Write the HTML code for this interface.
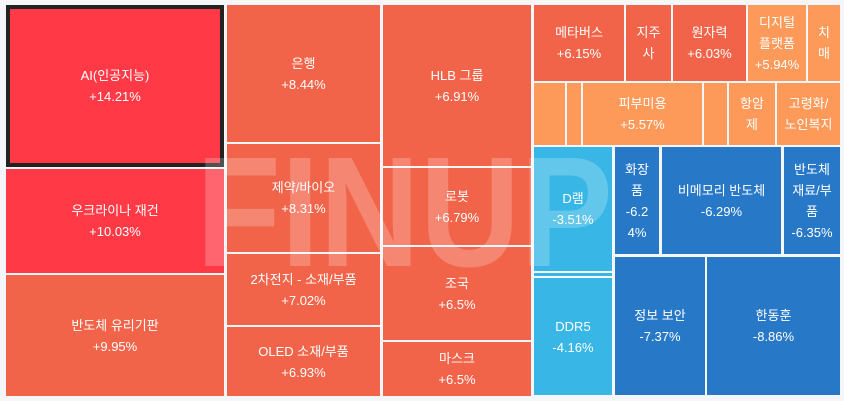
<!DOCTYPE html>
<html><head><meta charset="utf-8"><style>
body{margin:0;width:844px;height:401px;background:#f4f6fa;overflow:hidden;font-family:"Liberation Sans","Noto Sans CJK KR",sans-serif}
.c{position:absolute;display:flex;align-items:center;justify-content:center;text-align:center;color:#fff;font-size:13px;line-height:21px;box-sizing:border-box}
.r{background:#f26449}.h{background:#ff3a46}.o{background:#fd9a5a}.lb{background:#38b6e6}.db{background:#2878c8}
#wm{position:absolute;left:196px;top:118px;font:bold 157px "Liberation Sans",sans-serif;color:rgba(255,255,255,0.22);transform:scaleX(0.885);transform-origin:left top;letter-spacing:0;pointer-events:none;line-height:190px}
</style></head><body>
<div>
<div class="c h" style="left:6px;top:5px;width:218px;height:162px;border:4px solid #222">AI(인공지능)<br>+14.21%</div>
<div class="c h" style="left:6px;top:169px;width:218px;height:104px">우크라이나 재건<br>+10.03%</div>
<div class="c r" style="left:6px;top:275px;width:218px;height:121px">반도체 유리기판<br>+9.95%</div>
<div class="c r" style="left:227px;top:5px;width:153px;height:137px">은행<br>+8.44%</div>
<div class="c r" style="left:227px;top:144px;width:153px;height:108px">제약/바이오<br>+8.31%</div>
<div class="c r" style="left:227px;top:254px;width:153px;height:71px">2차전지 - 소재/부품<br>+7.02%</div>
<div class="c r" style="left:227px;top:327px;width:153px;height:69px">OLED 소재/부품<br>+6.93%</div>
<div class="c r" style="left:383px;top:5px;width:148px;height:161px">HLB 그룹<br>+6.91%</div>
<div class="c r" style="left:383px;top:168px;width:148px;height:77px">로봇<br>+6.79%</div>
<div class="c r" style="left:383px;top:247px;width:148px;height:93px">조국<br>+6.5%</div>
<div class="c r" style="left:383px;top:342px;width:148px;height:54px">마스크<br>+6.5%</div>
<div class="c r" style="left:534px;top:5px;width:90px;height:76px">메타버스<br>+6.15%</div>
<div class="c r" style="left:626px;top:5px;width:45px;height:76px">지주<br>사</div>
<div class="c r" style="left:673px;top:5px;width:73px;height:76px">원자력<br>+6.03%</div>
<div class="c o" style="left:748px;top:5px;width:58px;height:76px">디지털<br>플랫폼<br>+5.94%</div>
<div class="c o" style="left:808px;top:5px;width:32px;height:76px">치<br>매</div>
<div class="c o" style="left:534px;top:83px;width:31px;height:62px"></div>
<div class="c o" style="left:567px;top:83px;width:14px;height:62px"></div>
<div class="c o" style="left:583px;top:83px;width:119px;height:62px">피부미용<br>+5.57%</div>
<div class="c o" style="left:704px;top:83px;width:23px;height:62px"></div>
<div class="c o" style="left:729px;top:83px;width:46px;height:62px">항암<br>제</div>
<div class="c o" style="left:777px;top:83px;width:63px;height:62px">고령화/<br>노인복지</div>
<div class="c lb" style="left:534px;top:147px;width:78px;height:124px">D램<br>-3.51%</div>
<div class="c lb" style="left:534px;top:273px;width:78px;height:3px"></div>
<div class="c lb" style="left:534px;top:278px;width:78px;height:117px">DDR5<br>-4.16%</div>
<div class="c db" style="left:615px;top:147px;width:44px;height:107px">화장<br>품<br>-6.2<br>4%</div>
<div class="c db" style="left:662px;top:147px;width:119px;height:107px">비메모리 반도체<br>-6.29%</div>
<div class="c db" style="left:784px;top:147px;width:56px;height:107px">반도체<br>재료/부<br>품<br>-6.35%</div>
<div class="c db" style="left:615px;top:257px;width:90px;height:138px">정보 보안<br>-7.37%</div>
<div class="c db" style="left:707px;top:257px;width:133px;height:138px">한동훈<br>-8.86%</div>
</div>
<div id="wm">FINUP</div>
</body></html>
